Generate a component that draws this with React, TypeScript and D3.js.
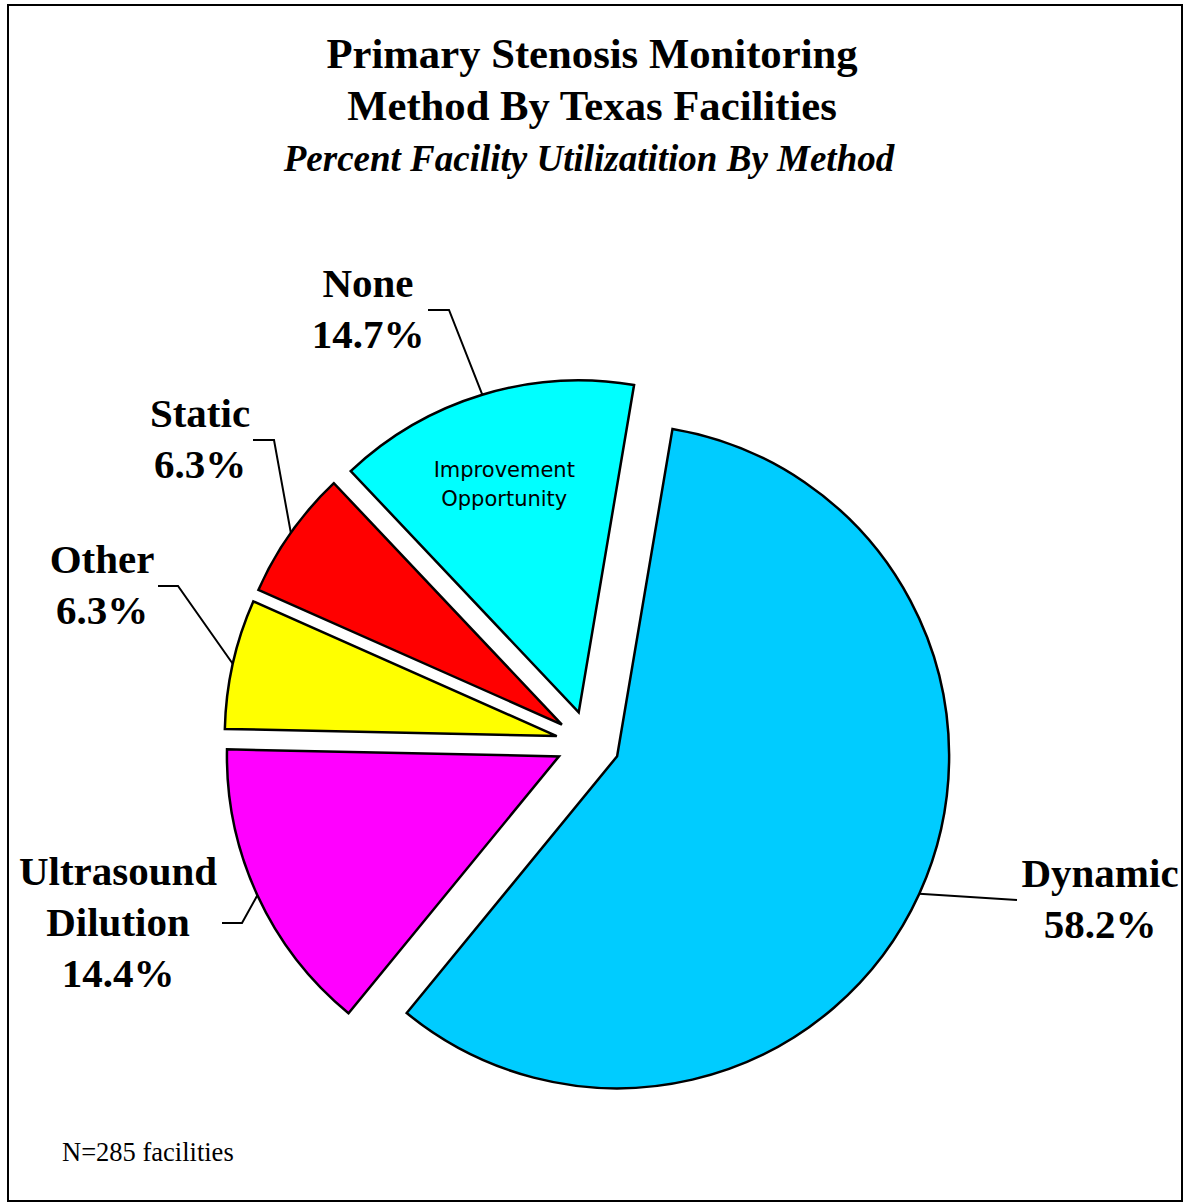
import React from "react";
import * as d3 from "d3";

const categories = ["Dynamic", "Ultrasound Dilution", "Other", "Static", "None"];
const values = [58.2, 14.4, 6.3, 6.3, 14.7];
const colors = ["#00CCFF", "#FF00FF", "#FFFF00", "#FF0000", "#00FFFF"];
const titleLines = ["Primary Stenosis Monitoring", "Method By Texas Facilities"];
const subtitle = "Percent Facility Utilizatition By Method";
const note = "N=285 facilities";
const calloutLines = ["Improvement", "Opportunity"];

// label layout (text centre x, first baseline y, elbow points)
const labelLayout = [
  { x: 1100, y: 887, pts: [[1017, 900]] },
  { x: 118, y: 885, pts: [[242, 923], [222, 923]] },
  { x: 102, y: 573, pts: [[178, 586], [158, 586]] },
  { x: 200, y: 427, pts: [[274, 440], [253, 440]] },
  { x: 368, y: 297, pts: [[449, 310], [428, 310]] },
];

const W = 1186;
const H = 1203;
const CX = 588;
const CY = 743;
const R = 332;
const EXPLODE = 32;
const START = (9.6 * Math.PI) / 180;

export default function App() {
  const pie = d3
    .pie<number>()
    .sort(null)
    .value((d) => d)
    .startAngle(START)
    .endAngle(START + 2 * Math.PI);
  const arcs = pie(values);
  const arcGen = d3.arc<d3.PieArcDatum<number>>().innerRadius(0).outerRadius(R);

  const serif = "'Liberation Serif', 'Times New Roman', serif";

  return (
    <svg
      width={W}
      height={H}
      style={{ position: "absolute", left: 0, top: 0, background: "#fff" }}
    >
      <rect x={8} y={5} width={1174} height={1196} fill="#fff" stroke="#000" strokeWidth={2} />
      <g fontFamily={serif} fontWeight="bold" textAnchor="middle" fill="#000">
        {titleLines.map((t, i) => (
          <text key={i} x={592} y={68 + i * 52} fontSize={42.7}>
            {t}
          </text>
        ))}
        <text x={589} y={171} fontSize={37} fontStyle="italic">
          {subtitle}
        </text>
      </g>
      {arcs.map((a, i) => {
        const mid = (a.startAngle + a.endAngle) / 2;
        const dx = Math.sin(mid) * EXPLODE;
        const dy = -Math.cos(mid) * EXPLODE;
        const ox = CX + dx;
        const oy = CY + dy;
        const sx = ox + Math.sin(mid) * R;
        const sy = oy - Math.cos(mid) * R;
        const lay = labelLayout[i];
        const pts = [[sx, sy], ...lay.pts];
        const lines = [...categories[i].split(" "), `${values[i].toFixed(1)}%`];
        return (
          <g key={i}>
            <path
              d={arcGen(a) || ""}
              transform={`translate(${ox},${oy})`}
              fill={colors[i]}
              stroke="#000"
              strokeWidth={2.5}
              strokeLinejoin="miter"
            />
            <path
              d={d3.line()(pts as [number, number][]) || ""}
              fill="none"
              stroke="#000"
              strokeWidth={2}
            />
            {lines.map((l, j) => (
              <text
                key={j}
                x={lay.x}
                y={lay.y + j * 51}
                fontFamily={serif}
                fontWeight="bold"
                fontSize={41}
                textAnchor="middle"
              >
                {l}
              </text>
            ))}
            {categories[i] === "None" &&
              calloutLines.map((l, j) => {
                const px = ox + Math.sin(mid) * R * 0.72 - 5;
                const py = oy - Math.cos(mid) * R * 0.72;
                return (
                  <text
                    key={"c" + j}
                    x={px}
                    y={py - 7 + j * 29}
                    fontFamily="'DejaVu Sans', Verdana, sans-serif"
                    fontSize={21}
                    textAnchor="middle"
                  >
                    {l}
                  </text>
                );
              })}
          </g>
        );
      })}
      <text x={62} y={1161} fontFamily={serif} fontSize={26.5}>
        {note}
      </text>
    </svg>
  );
}
